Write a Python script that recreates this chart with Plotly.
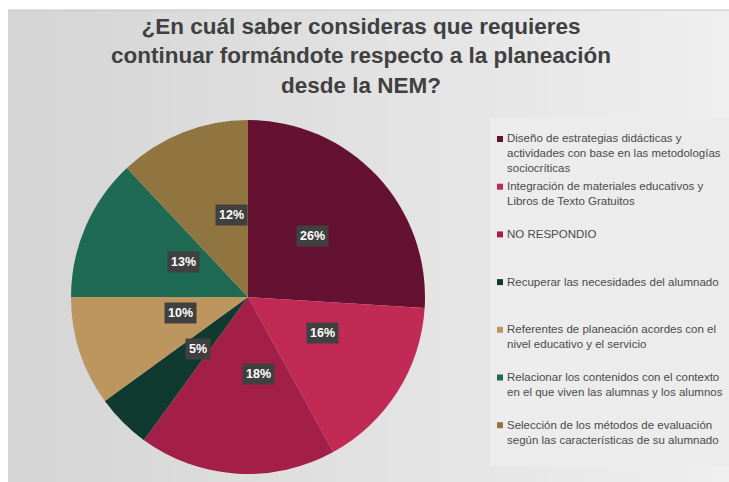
import math
import plotly.graph_objects as go

labels = [
    "Diseño de estrategias didácticas y<br>actividades con base en las metodologías<br>sociocríticas",
    "Integración de materiales educativos y<br>Libros de Texto Gratuitos",
    "NO RESPONDIO",
    "Recuperar las necesidades del alumnado",
    "Referentes de planeación acordes con el<br>nivel educativo y el servicio",
    "Relacionar los contenidos con el contexto<br>en el que viven las alumnas y los alumnos",
    "Selección de los métodos de evaluación<br>según las características de su alumnado",
]
values = [26, 16, 18, 5, 10, 13, 12]
colors = ["#641132", "#C22A56", "#A31F48", "#103A30", "#BD955F", "#1F6A52", "#907541"]
title_text = "<b>¿En cuál saber consideras que requieres<br>continuar formándote respecto a la planeación<br>desde la NEM?</b>"

W, H = 729, 482
cx, cy, R = 248, 297, 177  # pie centre / radius in px


def px2x(x):
    return x / W


def px2y(y):
    return 1 - y / H


fig = go.Figure()
fig.add_trace(go.Pie(
    labels=[l.replace("<br>", " ") for l in labels], values=values, sort=False,
    direction="clockwise", rotation=0,
    marker=dict(colors=colors, line=dict(width=0)),
    textinfo="none", hoverinfo="label+percent",
    domain=dict(x=[px2x(cx - R), px2x(cx + R)], y=[px2y(cy + R), px2y(cy - R)]),
))

shapes = []
# background gradient panel
x0, x1 = 8, W
n = 40
for i in range(n):
    a = x0 + (x1 - x0) * i / n
    b = x0 + (x1 - x0) * (i + 1) / n + 1
    t = i / (n - 1)
    g = int(213 + (239 - 213) * t)
    shapes.append(dict(type="rect", xref="paper", yref="paper", x0=px2x(a), x1=px2x(min(b, W)),
                       y0=0, y1=px2y(10), fillcolor=f"rgb({g},{g},{g})", line=dict(width=0), layer="below"))
shapes.append(dict(type="line", xref="paper", yref="paper", x0=px2x(8), x1=1, y0=px2y(10), y1=px2y(10),
                   line=dict(color="#c4c4c4", width=1), layer="below"))
# legend panel
shapes.append(dict(type="rect", xref="paper", yref="paper", x0=px2x(490), x1=1, y0=px2y(466), y1=px2y(118),
                   fillcolor="#ececec", line=dict(width=0), layer="below"))

annotations = [dict(text=title_text, x=px2x(361), y=px2y(56), xref="paper", yref="paper",
                    xanchor="center", yanchor="middle", showarrow=False, align="center",
                    font=dict(family="Liberation Sans, Arial", size=22.5, color="#404040"))]

# percentage labels at mid-angle of each slice
total = sum(values)
cum = 0
for v in values:
    mid = (cum + v / 2) / total * 2 * math.pi
    cum += v
    lx = cx + 0.5 * R * math.sin(mid)
    ly = cy - 0.5 * R * math.cos(mid)
    annotations.append(dict(text=f"<b>{round(v / total * 100)}%</b>", x=px2x(lx), y=px2y(ly),
                            xref="paper", yref="paper", showarrow=False,
                            bgcolor="#404040", borderpad=3,
                            font=dict(family="Liberation Sans, Arial", size=12.5, color="white")))

# legend (squares + text)
first_line_y = 139
item_step = 47.7
for i, (lab, col) in enumerate(zip(labels, colors)):
    y0 = first_line_y + item_step * i
    shapes.append(dict(type="rect", xref="paper", yref="paper",
                       x0=px2x(497), x1=px2x(503), y0=px2y(y0 + 3), y1=px2y(y0 - 3),
                       fillcolor=col, line=dict(width=0)))
    annotations.append(dict(text=lab, x=px2x(505), y=px2y(y0 - 8.5),
                            xref="paper", yref="paper", xanchor="left", yanchor="top",
                            showarrow=False, align="left",
                            font=dict(family="Liberation Sans, Arial", size=11.5, color="#4a4a4a")))

fig.update_layout(
    width=W, height=H, margin=dict(l=0, r=0, t=0, b=0, autoexpand=False),
    paper_bgcolor="white", plot_bgcolor="white",
    shapes=shapes, annotations=annotations,
    showlegend=False,
)
fig.write_html("out.html", config={"displayModeBar": False},
               post_script="document.body.style.margin='0';document.body.style.overflow='hidden';")
